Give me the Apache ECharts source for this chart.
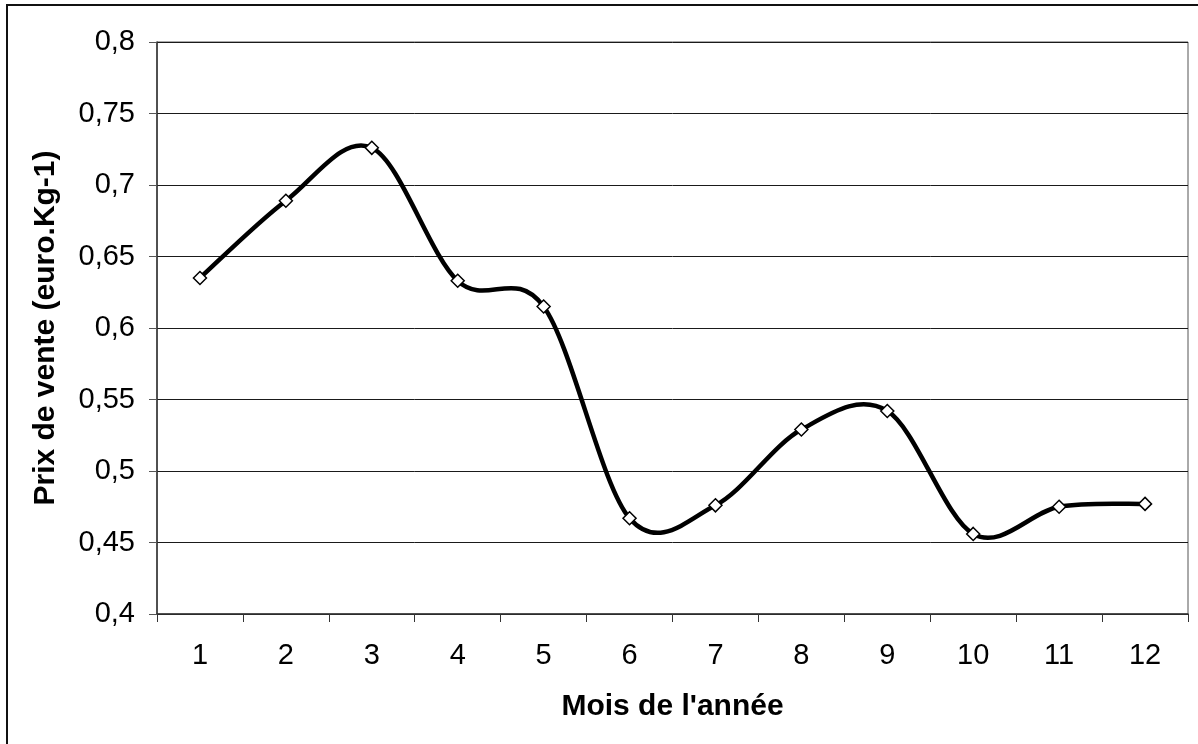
<!DOCTYPE html>
<html>
<head>
<meta charset="utf-8">
<script src="https://cdn.jsdelivr.net/npm/echarts@6/dist/echarts.min.js"></script>
<style>
  html, body { margin: 0; padding: 0; background: #fff; }
  #chart { width: 1198px; height: 744px; }
</style>
</head>
<body>
<div id="chart"></div>
<script>
// Months of the year
const mois = ['1', '2', '3', '4', '5', '6', '7', '8', '9', '10', '11', '12'];
// Selling price per month (euro per kg)
const prixVente = [0.635, 0.689, 0.726, 0.633, 0.615, 0.467, 0.476, 0.529, 0.542, 0.456, 0.475, 0.477];
// Value axis range
const yMin = 0.4;
const yMax = 0.8;
const yStep = 0.05;

const fontFamily = '"Liberation Sans", Arial, sans-serif';
const chart = echarts.init(document.getElementById('chart'));

// Pixel position of month k, clamped to the ends of the series
function pointAt(api, k) {
  const j = Math.max(0, Math.min(prixVente.length - 1, k));
  return api.coord([j, prixVente[j]]);
}

// One cubic Bezier segment between month i and month i+1,
// control points taken from the neighbouring months (Catmull-Rom style)
function renderSegment(params, api) {
  const i = params.dataIndex;
  if (i >= prixVente.length - 1) return null;
  const p0 = pointAt(api, i - 1);
  const p1 = pointAt(api, i);
  const p2 = pointAt(api, i + 1);
  const p3 = pointAt(api, i + 2);
  return {
    type: 'bezierCurve',
    shape: {
      x1: p1[0], y1: p1[1],
      cpx1: p1[0] + (p2[0] - p0[0]) / 6, cpy1: p1[1] + (p2[1] - p0[1]) / 6,
      cpx2: p2[0] - (p3[0] - p1[0]) / 6, cpy2: p2[1] - (p3[1] - p1[1]) / 6,
      x2: p2[0], y2: p2[1]
    },
    style: { stroke: '#000', lineWidth: 4.5, fill: 'none', lineCap: 'round' }
  };
}

chart.setOption({
  animation: false,
  backgroundColor: '#fff',
  graphic: [{
    type: 'rect',
    shape: { x: 7, y: 5, width: 1400, height: 900 },
    style: { fill: 'none', stroke: '#111', lineWidth: 2 },
    silent: true
  }],
  grid: {
    left: 157, right: 10, top: 42, bottom: 130,
    show: true, borderColor: '#555', borderWidth: 1, backgroundColor: 'transparent'
  },
  xAxis: {
    type: 'category',
    data: mois,
    boundaryGap: true,
    name: "Mois de l'année",
    nameLocation: 'middle',
    nameGap: 78,
    nameTextStyle: { fontFamily, fontSize: 30, fontWeight: 'bold', color: '#000' },
    axisLine: { lineStyle: { color: '#333', width: 1.5 } },
    axisTick: { show: true, interval: 0, length: 8, alignWithLabel: false, lineStyle: { color: '#333' } },
    axisLabel: { fontFamily, fontSize: 29, color: '#000', margin: 27, interval: 0 },
    splitLine: { show: false }
  },
  yAxis: {
    type: 'value',
    min: yMin, max: yMax, interval: yStep,
    name: 'Prix de vente (euro.Kg-1)',
    nameLocation: 'middle',
    nameGap: 96,
    nameRotate: 90,
    nameTextStyle: { fontFamily, fontSize: 30, fontWeight: 'bold', color: '#000' },
    axisLine: { show: true, lineStyle: { color: '#333', width: 1.5 } },
    axisTick: { show: true, length: 8, lineStyle: { color: '#555' } },
    axisLabel: {
      fontFamily, fontSize: 29, color: '#000', margin: 22,
      formatter: v => String(+v.toFixed(2)).replace('.', ',')
    },
    splitLine: { show: true, lineStyle: { color: '#1a1a1a', width: 1 } }
  },
  series: [{
    // smoothed price curve
    type: 'custom',
    data: prixVente.map((v, i) => [i, v]),
    renderItem: renderSegment,
    silent: true,
    z: 2
  }, {
    // diamond markers at each month
    type: 'line',
    data: prixVente,
    symbol: 'diamond',
    symbolSize: 13,
    showAllSymbol: true,
    lineStyle: { opacity: 0 },
    itemStyle: { color: '#fff', borderColor: '#000', borderWidth: 1.5 },
    z: 3
  }]
});
</script>
</body>
</html>
